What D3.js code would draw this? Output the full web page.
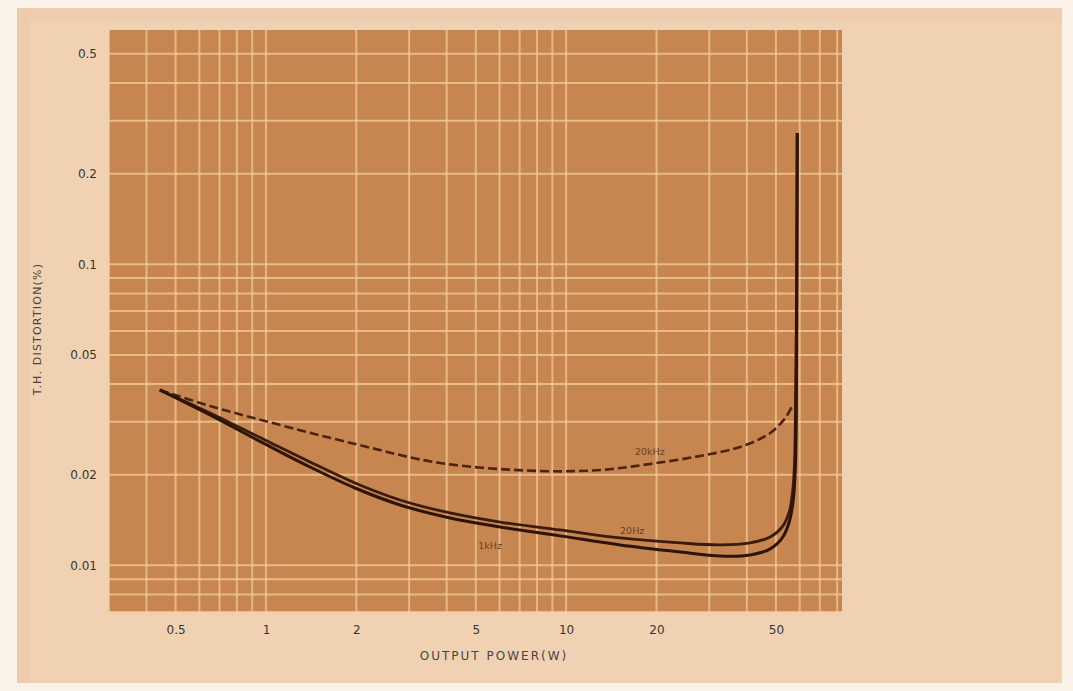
<!DOCTYPE html>
<html>
<head>
<meta charset="utf-8">
<script src="https://cdn.jsdelivr.net/npm/d3@7"></script>
<style>
  html, body { margin: 0; padding: 0; background: #fbf3ea; }
  svg { display: block; }
</style>
</head>
<body>
<svg id="chart" width="1073" height="691"></svg>
<script>
// ---- data ----
const xTickValues = [0.5, 1, 2, 5, 10, 20, 50];
const xTickLabels = ["0.5", "1", "2", "5", "10", "20", "50"];
const yTickValues = [0.01, 0.02, 0.05, 0.1, 0.2, 0.5];
const yTickLabels = ["0.01", "0.02", "0.05", "0.1", "0.2", "0.5"];

// 20kHz (dashed)
const power20k = [0.443, 0.651, 0.992, 1.980, 3.80, 8.19, 12.98, 19.05, 27.97, 38.02, 47.86, 53.70, 57.11];
const thd20k   = [0.03825, 0.03384, 0.03017, 0.02531, 0.02188, 0.02058, 0.02074, 0.02172, 0.02309, 0.02473, 0.02753, 0.03087, 0.03436];

// 20Hz (solid, upper)
const power20 = [0.443, 0.651, 0.992, 1.402, 1.980, 2.797, 4.105, 6.026, 9.55, 15.14, 23.99, 32.61, 41.05, 47.86, 52.48, 55.37, 56.66, 57.54, 57.98, 58.43, 58.88];
const thd20   = [0.03825, 0.03207, 0.02610, 0.02205, 0.01878, 0.01649, 0.01493, 0.01393, 0.01311, 0.01233, 0.01187, 0.01169, 0.01187, 0.01243, 0.01342, 0.01504, 0.01713, 0.02074, 0.02817, 0.0605, 0.2730];

// 1kHz (solid, lower)
const power1k = [0.443, 0.651, 0.992, 1.402, 1.980, 2.797, 4.105, 6.026, 9.55, 15.14, 23.99, 32.61, 41.05, 47.86, 52.48, 55.37, 57.11, 57.98, 58.43, 58.88];
const thd1k   = [0.03825, 0.03158, 0.02531, 0.02122, 0.01807, 0.01587, 0.01437, 0.01342, 0.01253, 0.01169, 0.01108, 0.01074, 0.01083, 0.01134, 0.01233, 0.01393, 0.01649, 0.02074, 0.03040, 0.2730];

const seriesLabels = ["20kHz", "20Hz", "1kHz"];
const labelPower = [19.0, 16.6, 5.58];
const labelThd = [0.02327, 0.01275, 0.01135];

// ---- layout ----
const svg = d3.select("#chart");
const W = 1073, H = 691;
const plot = { left: 109, right: 842, top: 30, bottom: 612 };

// page & panel
svg.append("rect").attr("x", 0).attr("y", 0).attr("width", W).attr("height", H).attr("fill", "#fbf3ea");
svg.append("rect").attr("x", 17).attr("y", 8).attr("width", 1045).attr("height", 675).attr("fill", "#f0d2b3");
svg.append("rect").attr("x", 17).attr("y", 8).attr("width", 13).attr("height", 675).attr("fill", "#ecc7a9").attr("opacity", 0.7);
svg.append("rect").attr("x", 17).attr("y", 8).attr("width", 1045).attr("height", 14).attr("fill", "#ecccac").attr("opacity", 0.6);

const x = d3.scaleLog().domain([0.3, 83]).range([plot.left, plot.right]);
const y = d3.scaleLog().domain([0.007, 0.6]).range([plot.bottom, plot.top]);

// plot background
svg.append("rect")
  .attr("x", plot.left).attr("y", plot.top)
  .attr("width", plot.right - plot.left).attr("height", plot.bottom - plot.top)
  .attr("fill", "#c78650");

// log grid
const gridX = [];
[0.1, 1, 10].forEach(d => { for (let m = 1; m <= 9; m++) { const v = d * m; if (v >= 0.3 && v <= 83) gridX.push(v); } });
const gridY = [];
[0.001, 0.01, 0.1].forEach(d => { for (let m = 1; m <= 9; m++) { const v = d * m; if (v >= 0.007 && v <= 0.6) gridY.push(v); } });

const grid = svg.append("g");
grid.selectAll("line.gx").data(gridX).join("line")
  .attr("class", "gx")
  .attr("x1", d => x(d)).attr("x2", d => x(d))
  .attr("y1", plot.top).attr("y2", plot.bottom)
  .attr("stroke", "#f4cd9d").attr("stroke-width", 2).attr("opacity", 0.7);
grid.selectAll("line.gy").data(gridY).join("line")
  .attr("class", "gy")
  .attr("y1", d => y(d)).attr("y2", d => y(d))
  .attr("x1", plot.left).attr("x2", plot.right)
  .attr("stroke", "#f4cd9d").attr("stroke-width", 2).attr("opacity", 0.75);

// axes
const fontFam = "'DejaVu Sans', 'Liberation Sans', sans-serif";
const xAxis = svg.append("g").attr("transform", `translate(0,${plot.bottom})`)
  .call(d3.axisBottom(x).tickValues(xTickValues).tickSize(0).tickPadding(13)
    .tickFormat((d, i) => xTickLabels[i]));
xAxis.select(".domain").remove();
xAxis.selectAll("text").attr("font-family", fontFam).attr("font-size", 12).attr("fill", "#3a3430");

const yAxis = svg.append("g").attr("transform", `translate(${plot.left},0)`)
  .call(d3.axisLeft(y).tickValues(yTickValues).tickSize(0).tickPadding(12)
    .tickFormat((d, i) => yTickLabels[i]));
yAxis.select(".domain").remove();
yAxis.selectAll("text").attr("font-family", fontFam).attr("font-size", 12).attr("fill", "#3a3430");

// axis titles
svg.append("text")
  .attr("x", 494).attr("y", 660)
  .attr("text-anchor", "middle")
  .attr("font-family", fontFam).attr("font-size", 12).attr("letter-spacing", 2)
  .attr("fill", "#4a4440")
  .text("OUTPUT POWER(W)");
svg.append("text")
  .attr("transform", "translate(41,329) rotate(-90)")
  .attr("text-anchor", "middle")
  .attr("font-family", fontFam).attr("font-size", 11).attr("letter-spacing", 1.2)
  .attr("fill", "#4a4440")
  .text("T.H. DISTORTION(%)");

// curves
const line = d3.line().x(d => x(d[0])).y(d => y(d[1])).curve(d3.curveCatmullRom.alpha(0.5));
const zip = (a, b) => a.map((v, i) => [v, b[i]]);

svg.append("path").datum(zip(power20k, thd20k))
  .attr("d", line).attr("fill", "none")
  .attr("stroke", "#4a2410").attr("stroke-width", 2.6)
  .attr("stroke-dasharray", "9,4");
svg.append("path").datum(zip(power20, thd20))
  .attr("d", line).attr("fill", "none")
  .attr("stroke", "#3a1c0c").attr("stroke-width", 2.8);
svg.append("path").datum(zip(power1k, thd1k))
  .attr("d", line).attr("fill", "none")
  .attr("stroke", "#2e1408").attr("stroke-width", 3);

// curve labels
svg.selectAll("text.clab").data(seriesLabels).join("text")
  .attr("class", "clab")
  .attr("x", (d, i) => x(labelPower[i])).attr("y", (d, i) => y(labelThd[i]))
  .attr("text-anchor", "middle")
  .attr("font-family", fontFam).attr("font-size", 9.5)
  .attr("fill", "#6a4024")
  .text(d => d);
</script>
</body>
</html>
